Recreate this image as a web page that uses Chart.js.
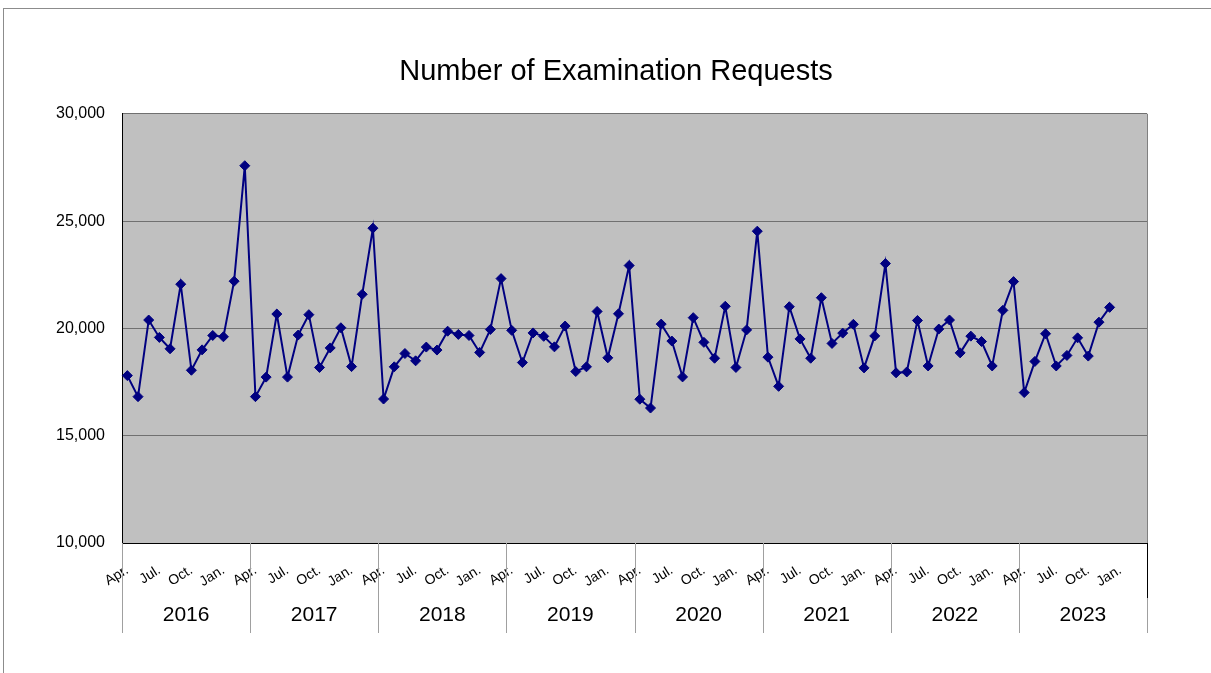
<!DOCTYPE html>
<html>
<head>
<meta charset="utf-8">
<title>Number of Examination Requests</title>
<script src="https://cdn.jsdelivr.net/npm/chart.js@4/dist/chart.umd.min.js"></script>
<style>
    html, body { margin: 0; padding: 0; background: #ffffff; overflow: hidden; }
    .frame {
        position: absolute; left: 3px; top: 8px; width: 1300px; height: 800px;
        border-top: 1px solid #8c8c8c; border-left: 1px solid #8c8c8c;
    }
    .wrap { position: absolute; left: 0; top: 0; width: 1232px; height: 673px; }
</style>
</head>
<body>
<div class="frame"></div>
<div class="wrap"><canvas id="chart" width="1232" height="673"></canvas></div>
<script>
// fiscal years (Apr - Mar)
const years = ['2016', '2017', '2018', '2019', '2020', '2021', '2022', '2023'];
const months = ['Apr.', 'May', 'Jun.', 'Jul.', 'Aug.', 'Sep.', 'Oct.', 'Nov.', 'Dec.', 'Jan.', 'Feb.', 'Mar.'];
const shownMonths = ['Apr.', 'Jul.', 'Oct.', 'Jan.'];
const yTicks = [10000, 15000, 20000, 25000, 30000];

// monthly requests per fiscal year
const req2016 = [17800, 16820, 20390, 19580, 19050, 22060, 18050, 19000, 19670, 19610, 22200, 27580];
const req2017 = [16820, 17730, 20670, 17730, 19690, 20640, 18180, 19090, 20030, 18220, 21590, 24670];
const req2018 = [16710, 18210, 18830, 18490, 19130, 18990, 19870, 19720, 19670, 18880, 19950, 22320];
const req2019 = [19910, 18410, 19790, 19630, 19140, 20110, 17990, 18210, 20790, 18630, 20680, 22930];
const req2020 = [16700, 16290, 20200, 19410, 17740, 20500, 19350, 18610, 21030, 18180, 19930, 24530];
const req2021 = [18660, 17300, 21010, 19510, 18610, 21430, 19300, 19780, 20190, 18160, 19650, 23020];
const req2022 = [17930, 17970, 20370, 18250, 19970, 20390, 18860, 19640, 19390, 18250, 20840, 22180];
const req2023 = [17010, 18460, 19750, 18250, 18740, 19560, 18710, 20290, 20980];

const FONT = "'Liberation Sans', Arial, sans-serif";

document.addEventListener('DOMContentLoaded', function() {
    const labels = [];
    years.forEach(y => months.forEach(m => labels.push(m)));
    const values = [].concat(req2016, req2017, req2018, req2019, req2020, req2021, req2022, req2023);

    // grey plot area + right edge
    const plotArea = {
        id: 'plotArea',
        beforeDraw(chart) {
            const { ctx, chartArea: a } = chart;
            ctx.save();
            ctx.fillStyle = '#c0c0c0';
            ctx.fillRect(a.left, a.top, a.right - a.left, a.bottom - a.top);
            ctx.restore();
        },
        afterDraw(chart) {
            const { ctx, chartArea: a } = chart;
            ctx.save();
            ctx.strokeStyle = '#808080';
            ctx.lineWidth = 1;
            ctx.beginPath();
            ctx.moveTo(a.right + 0.5, a.top);
            ctx.lineTo(a.right + 0.5, a.bottom);
            ctx.stroke();
            ctx.restore();
        }
    };

    // second level of the category axis: fiscal years
    const yearRow = {
        id: 'yearRow',
        afterDraw(chart) {
            const { ctx, chartArea: a } = chart;
            const x = chart.scales.x;
            const half = (x.getPixelForValue(1) - x.getPixelForValue(0)) / 2;
            ctx.save();
            ctx.lineWidth = 1;
            ctx.strokeStyle = '#a0a0a0';
            for (let i = 0; i <= years.length; i++) {
                const px = Math.round(x.getPixelForValue(i * 12) - half) + 0.5;
                ctx.beginPath();
                ctx.moveTo(px, a.bottom);
                ctx.lineTo(px, a.bottom + 90);
                ctx.stroke();
            }
            ctx.strokeStyle = '#000000';
            ctx.beginPath();
            ctx.moveTo(a.right + 0.5, a.bottom);
            ctx.lineTo(a.right + 0.5, a.bottom + 55);
            ctx.stroke();
            ctx.fillStyle = '#000000';
            ctx.font = '21px ' + FONT;
            ctx.textAlign = 'center';
            ctx.textBaseline = 'middle';
            years.forEach((yr, i) => {
                const cx = (x.getPixelForValue(i * 12) + x.getPixelForValue(i * 12 + 11)) / 2;
                ctx.fillText(yr, cx, a.bottom + 72);
            });
            ctx.restore();
        }
    };

    new Chart(document.getElementById('chart').getContext('2d'), {
        type: 'line',
        data: {
            labels: labels,
            datasets: [{
                data: values,
                borderColor: '#000080',
                backgroundColor: '#000080',
                borderWidth: 2,
                tension: 0,
                pointStyle: 'rectRot',
                pointRadius: 5,
                pointBorderWidth: 1,
                pointBackgroundColor: '#000080',
                pointBorderColor: '#000080'
            }]
        },
        options: {
            responsive: false,
            animation: false,
            layout: { padding: 0 },
            plugins: {
                legend: { display: false },
                tooltip: { enabled: false },
                title: {
                    display: true,
                    text: 'Number of Examination Requests',
                    color: '#000000',
                    font: { family: FONT, size: 29, weight: 'normal' },
                    padding: { top: 55, bottom: 24 }
                }
            },
            scales: {
                x: {
                    type: 'category',
                    offset: true,
                    grid: { display: false },
                    border: { display: true, color: '#000000', width: 1 },
                    ticks: {
                        autoSkip: false,
                        maxRotation: 32,
                        minRotation: 32,
                        padding: 11,
                        color: '#000000',
                        font: { family: FONT, size: 14 },
                        callback: function(value, index) {
                            const m = labels[index];
                            return shownMonths.includes(m) ? m : '';
                        }
                    },
                    afterFit: function(scale) { scale.height = 130; }
                },
                y: {
                    min: 10000,
                    max: 30000,
                    afterBuildTicks: function(scale) {
                        scale.ticks = yTicks.map(v => ({ value: v }));
                    },
                    grid: {
                        drawTicks: false,
                        color: ctx => ctx.tick && ctx.tick.value === 10000 ? 'rgba(0,0,0,0)' : '#707070',
                        lineWidth: 1
                    },
                    border: { display: true, color: '#000000', width: 1 },
                    ticks: {
                        padding: 17,
                        color: '#000000',
                        font: { family: FONT, size: 16 },
                        callback: value => value.toLocaleString('en-US')
                    },
                    afterFit: function(scale) { scale.width = 122; }
                },
                // empty right-hand box so the title centres like the original frame
                y2: {
                    position: 'right',
                    display: true,
                    grid: { display: false, drawTicks: false },
                    border: { display: false },
                    ticks: { display: false },
                    afterFit: function(scale) { scale.width = 85; }
                }
            }
        },
        plugins: [plotArea, yearRow]
    });
});
</script>
</body>
</html>
